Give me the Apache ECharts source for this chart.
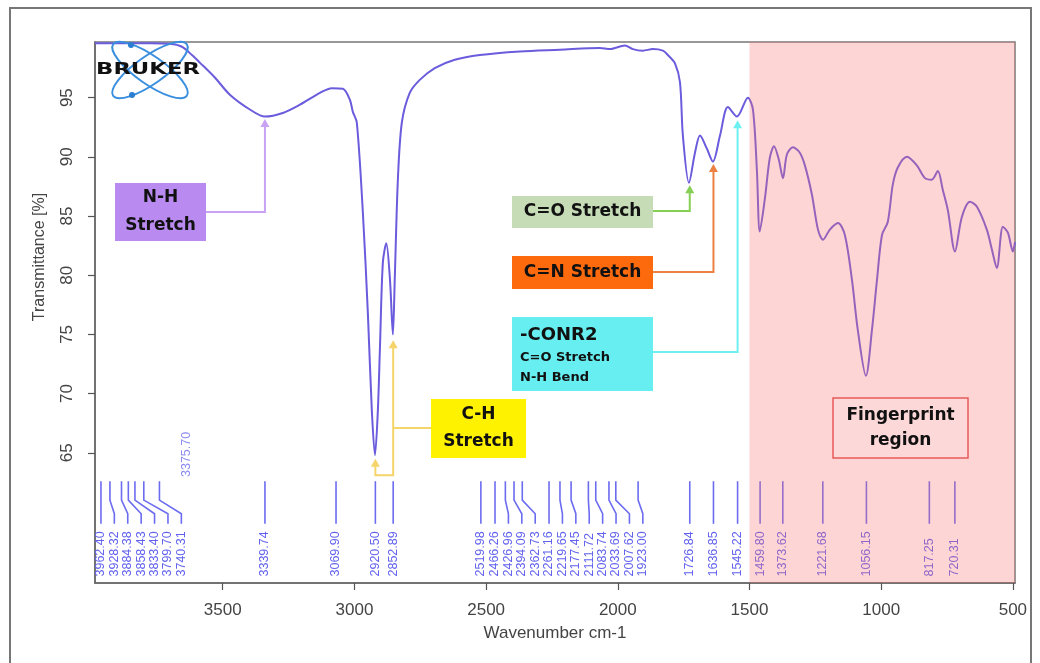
<!DOCTYPE html>
<html><head><meta charset="utf-8">
<script src="https://cdn.jsdelivr.net/npm/echarts@6/dist/echarts.min.js"></script>
<style>html,body{margin:0;padding:0;background:#fff}#c{width:1040px;height:663px}</style>
</head><body><div id="c"></div>
<script>
// ---- data ----
const wavenumbers = [3985,3891,3777,3701,3655,3617,3587,3530,3473,3397,3340,3272,3207,3131,3086,3044,3017,3006,2991,2968,2949,2934,2922,2911,2903,2892,2879,2865,2854,2847,2835,2820,2790,2752,2695,2619,2524,2372,2220,2068,2030,1973,1943,1905,1867,1829,1810,1783,1764,1753,1730,1707,1688,1662,1639,1612,1582,1548,1506,1487,1472,1461,1442,1423,1407,1389,1373,1358,1335,1309,1290,1263,1240,1221,1195,1164,1138,1111,1089,1058,1035,1016,997,975,956,937,902,864,834,808,785,766,747,720,694,663,637,599,580,561,538,519,500,492];
const transmittance = [99.6,99.6,99.6,99.55,99.3,98.6,97.96,96.7,95.25,94.0,93.4,93.7,94.4,95.4,95.8,95.75,94.8,93.8,92.9,85.3,76.8,68.6,64.8,68.6,74.0,81.1,82.7,79.6,75.0,79.6,88.1,92.9,95.4,96.5,97.5,98.2,98.6,98.9,99.05,99.2,99.1,99.4,99.1,98.97,99.1,98.97,98.6,97.9,96.3,91.8,87.8,90.35,91.8,90.7,89.6,91.8,94.2,93.4,95.0,94.0,88.9,83.7,86.4,89.9,90.9,89.8,88.2,90.2,90.8,90.35,89.3,86.8,83.85,83.0,83.85,84.4,83.4,79.6,75.4,71.5,75.4,79.6,83.4,84.5,87.65,89.1,90.0,89.25,88.2,88.07,88.8,87.2,85.5,82.0,84.9,86.2,85.8,83.85,82.2,80.6,84.1,83.6,82.0,82.8];
const peakWavenumbers = [3962.40,3928.32,3884.38,3858.43,3833.40,3799.70,3740.31,3339.74,3069.90,2920.50,2852.89,2519.98,2466.26,2426.96,2394.09,2362.73,2261.16,2219.65,2177.45,2111.72,2083.74,2033.69,2007.62,1923.00,1726.84,1636.85,1545.22,1459.80,1373.62,1221.68,1056.15,817.25,720.31];
const strayPeakLabel = '3375.70';
const xTicks = [3500,3000,2500,2000,1500,1000,500];
const yTicks = [65,70,75,80,85,90,95];
const fingerprintRange = [1500, 492];
const nhTarget = [3339.74, 93.2];
const chTargets = [[2852.89, 74.5],[2920.50, 64.5]];
const coTarget = [1726.84, 87.6];
const cnTarget = [1636.85, 89.4];
const conrTarget = [1545.22, 93.1];

const X_MIN = 492, X_MAX = 3985, Y_MIN = 54, Y_MAX = 99.7;
const FONT = '"Liberation Sans", Arial, sans-serif';
const BOLD = '"DejaVu Sans", Verdana, sans-serif';

const chart = echarts.init(document.getElementById('c'), null, {renderer:'canvas'});

const option = {
  animation:false,
  backgroundColor:'#fff',
  grid:{left:95, right:25, top:42, bottom:80, show:true, borderColor:'#777', borderWidth:1.5, backgroundColor:'transparent'},
  xAxis:{type:'value', inverse:true, min:X_MIN, max:X_MAX,
    axisLine:{show:true, onZero:false, lineStyle:{color:'#666', width:1.5}},
    axisTick:{show:true, customValues:xTicks, length:7, lineStyle:{color:'#555', width:1.2}},
    axisLabel:{customValues:xTicks, margin:19, fontSize:17, color:'#444', fontFamily:FONT, formatter:v=>String(v)},
    splitLine:{show:false},
    name:'Wavenumber cm-1', nameLocation:'middle', nameGap:42,
    nameTextStyle:{fontSize:17, color:'#444', fontFamily:FONT}},
  yAxis:{type:'value', min:Y_MIN, max:Y_MAX,
    axisLine:{show:true, onZero:false, lineStyle:{color:'#666', width:1.5}},
    axisTick:{show:true, customValues:yTicks, length:7, lineStyle:{color:'#555', width:1.2}},
    axisLabel:{customValues:yTicks, margin:19, rotate:90, fontSize:17, color:'#444', fontFamily:FONT, formatter:v=>String(v)},
    splitLine:{show:false}},
  series:[
    {type:'line', name:'spectrum', data:wavenumbers.map((w,i)=>[w, transmittance[i]]),
     showSymbol:false, smooth:0.3, z:3, lineStyle:{color:'#6a5cdc', width:2}},
    {type:'custom', name:'peaks', z:2, silent:true,
     data:peakWavenumbers.map(w=>[w, 60]),
     renderItem:function(params, api){
       const i = params.dataIndex;
       const pxs = peakWavenumbers.map(w=>api.coord([w, 60])[0]);
       const lx = [];
       for (let k=0;k<pxs.length;k++) lx[k] = k===0 ? pxs[k] : Math.max(pxs[k], lx[k-1]+13.4);
       const yTop = api.coord([1000, 62.6])[1];
       const yB1 = api.coord([1000, 61.0])[1];
       const yB2 = api.coord([1000, 59.85])[1];
       const yBot = api.coord([1000, 59.0])[1];
       const yLab = api.coord([1000, 54.55])[1];
       return {type:'group', children:[
         {type:'polyline', shape:{points:[[pxs[i],yTop],[pxs[i],yB1],[lx[i],yB2],[lx[i],yBot]]},
          style:{stroke:'#6c6cf0', lineWidth:1.6, fill:null}},
         {type:'text', x:lx[i], y:yLab, rotation:Math.PI/2,
          style:{text:peakWavenumbers[i].toFixed(2), align:'left', verticalAlign:'middle',
                 font:'12.5px '+FONT, fill:'#6262ee'}}
       ]};
     }},
    {type:'custom', name:'fingerprint', z:5, silent:true, data:[fingerprintRange],
     renderItem:function(params, api){
       const a = api.coord([fingerprintRange[0], Y_MAX]);
       const b = api.coord([fingerprintRange[1], Y_MIN]);
       return {type:'rect', shape:{x:a[0], y:a[1], width:b[0]-a[0], height:b[1]-a[1]},
               style:{fill:'rgba(248,115,115,0.3)'}};
     }}
  ]
};
chart.setOption(option);

function P(v){ return chart.convertToPixel({gridIndex:0}, v); }
function arrowHead(x, y, color){
  return {type:'polygon', z:50, shape:{points:[[x-4.5,y+8],[x+4.5,y+8],[x,y]]}, style:{fill:color}};
}
function line(points, color){
  return {type:'polyline', z:50, shape:{points:points}, style:{stroke:color, lineWidth:2, fill:null}};
}
function box(x,y,w,h,fill,stroke){
  return {type:'rect', z:60, shape:{x:x,y:y,width:w,height:h}, style:{fill:fill, stroke:stroke||null, lineWidth:stroke?1.5:0}};
}
function label(x,y,text,size,align,lh){
  return {type:'text', z:61, x:x, y:y, style:{text:text, font:'bold '+size+'px '+BOLD, fill:'#111', align:align||'center', verticalAlign:'middle', lineHeight:lh||size}};
}

const els = [];
// outer frame
els.push({type:'rect', z:1, shape:{x:10,y:8,width:1021,height:700}, style:{fill:null, stroke:'#777', lineWidth:2}});
// y axis title
els.push({type:'text', z:10, x:40, y:257, rotation:Math.PI/2, style:{text:'Transmittance [%]', font:'16px '+FONT, fill:'#444', align:'center', verticalAlign:'middle'}});
// stray label
els.push({type:'text', z:10, x:187, y:477, rotation:Math.PI/2, style:{text:strayPeakLabel, font:'12.5px '+FONT, fill:'#8a8af2', align:'left', verticalAlign:'middle'}});
// logo
els.push({type:'ellipse', z:20, x:150, y:70, rotation:-0.61, shape:{cx:0,cy:0,rx:45,ry:14}, style:{fill:null, stroke:'#3b8fdf', lineWidth:2}});
els.push({type:'ellipse', z:20, x:150, y:70, rotation:0.61, shape:{cx:0,cy:0,rx:45,ry:14}, style:{fill:null, stroke:'#3b8fdf', lineWidth:2}});
els.push({type:'circle', z:21, shape:{cx:131,cy:45,r:3}, style:{fill:'#2a7fd0'}});
els.push({type:'circle', z:21, shape:{cx:132,cy:95,r:3}, style:{fill:'#2a7fd0'}});
els.push({type:'text', z:22, x:148, y:70, scaleX:1.42, style:{text:'BRUKER', font:'bold 16px '+BOLD, fill:'#111', align:'center', verticalAlign:'middle'}});

// N-H
(function(){
  const t = P(nhTarget), c='#c9a2f4';
  els.push(line([[206,212],[t[0],212],[t[0],t[1]+6]], c), arrowHead(t[0], t[1], c));
  els.push(box(115,183,91,58,'#b98af0'), label(160.5,212,'N-H\nStretch',17,'center',28));
})();
// C-H
(function(){
  const a = P(chTargets[0]), b = P(chTargets[1]), c='#f5d46a';
  const yb = P([2900, 63.1])[1];
  els.push(line([[431,428],[a[0],428]], c));
  els.push(line([[a[0],a[1]+6],[a[0],yb],[b[0],yb],[b[0],b[1]+6]], c));
  els.push(arrowHead(a[0],a[1],c), arrowHead(b[0],b[1],c));
  els.push(box(431,399,95,59,'#fff200'), label(478.5,428,'C-H\nStretch',17,'center',27));
})();
// C=O
(function(){
  const t = P(coTarget), c='#86cf55';
  els.push(line([[653,211],[t[0],211],[t[0],t[1]+6]], c), arrowHead(t[0],t[1],c));
  els.push(box(512,196,141,32,'#c6dcb7'), label(582.5,212,'C=O Stretch',17));
})();
// C=N
(function(){
  const t = P(cnTarget), c='#ec8040';
  els.push(line([[653,272],[t[0],272],[t[0],t[1]+6]], c), arrowHead(t[0],t[1],c));
  els.push(box(512,256,141,33,'#fd6a0e'), label(582.5,273,'C=N Stretch',17));
})();
// -CONR2
(function(){
  const t = P(conrTarget), c='#6ff0f0';
  els.push(line([[653,352],[t[0],352],[t[0],t[1]+6]], c), arrowHead(t[0],t[1],c));
  els.push(box(512,317,141,74,'#66eef0'));
  els.push(label(520,335,'-CONR2',18,'left'), label(520,357.5,'C=O Stretch',13,'left'), label(520,377.5,'N-H Bend',13,'left'));
})();
// Fingerprint box
els.push(box(833,398,135,60,'#fcd8d8','#e8595a'), label(900.5,428,'Fingerprint\nregion',17,'center',25));

chart.setOption({graphic:{elements:els}});
</script>
</body></html>
